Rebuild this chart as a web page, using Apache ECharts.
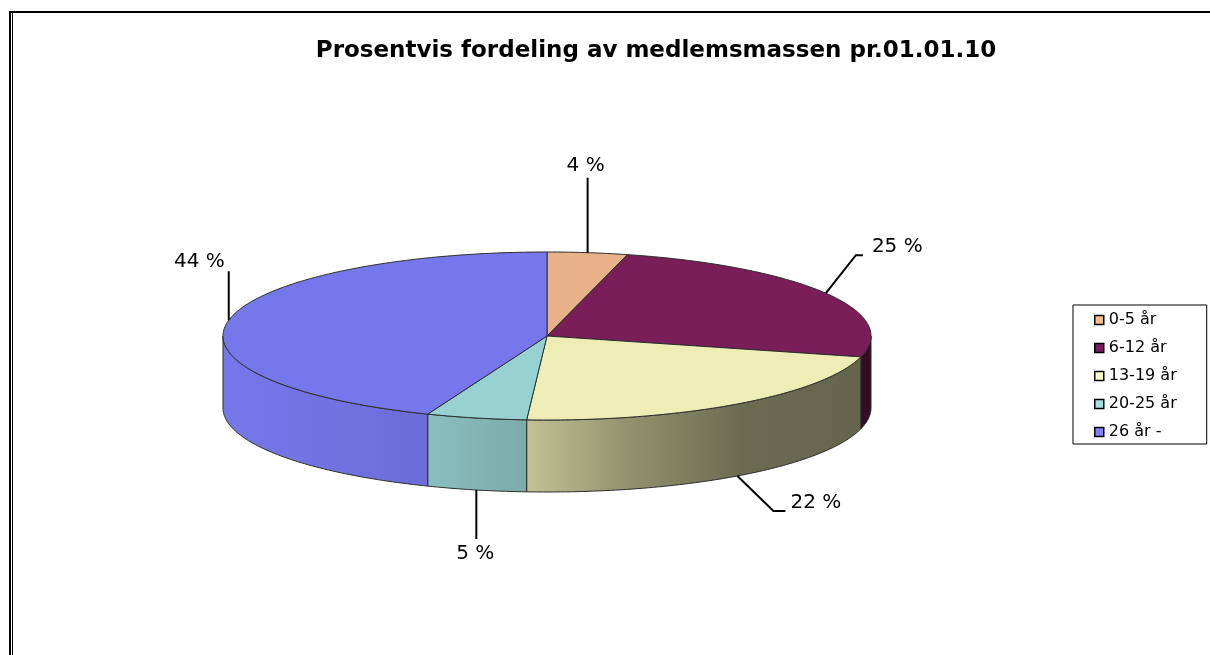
<!DOCTYPE html>
<html><head><meta charset="utf-8">
<script src="https://cdn.jsdelivr.net/npm/echarts@6/dist/echarts.min.js"></script>
<style>html,body{margin:0;padding:0;background:#fff}#c{width:1210px;height:655px}</style>
</head><body><div id="c"></div>
<script>
// ---- data ----
const chartTitle = 'Prosentvis fordeling av medlemsmassen pr.01.01.10';
const categories = ['0-5 år', '6-12 år', '13-19 år', '20-25 år', '26 år -'];
const values = [4, 25, 22, 5, 44];

// ---- styles / layout ----
const legendColors = ['#f9bf8f', '#7a1c5a', '#ffffc6', '#a6e0e0', '#8080ff'];
const topColors = ['#e9b189', '#7a1e5a', '#ededb5', '#97d1d1', '#7777ec'];
const PIE = { cx: 547, cy: 336, rx: 324, ry: 84, depth: 72 };
const labelLayout = [
  { line: [[0, 0], [0, -75]], text: [-2, -87], align: 'center' },
  { line: [[0, 0], [30, -38], [37, -38]], text: [46, -46], align: 'left' },
  { line: [[0, 0], [36, 35], [48, 35]], text: [53, 27], align: 'left' },
  { line: [[0, 0], [0, 49]], text: [-1, 64], align: 'center' },
  { line: [[0, 0], [0, -49]], text: [-4, -58], align: 'right' }
];
const shade = [[0, 1], [0.3, 0.92], [0.47, 0.82], [0.62, 0.62], [0.8, 0.45], [1, 0.42]];
const FONT = 'DejaVu Sans';

const total = values.reduce((a, b) => a + b, 0);
const cum = [];
values.reduce((acc, v, i) => { cum[i] = [acc, acc + v]; return acc + v; }, 0);

function scaleColor(hex, f) {
  const n = parseInt(hex.slice(1), 16);
  const r = Math.round(((n >> 16) & 255) * f), g = Math.round(((n >> 8) & 255) * f), b = Math.round((n & 255) * f);
  return 'rgb(' + r + ',' + g + ',' + b + ')';
}
function sideGradient(hex) {
  return {
    type: 'linear', global: true,
    x: PIE.cx - PIE.rx, y: 0, x2: PIE.cx + PIE.rx, y2: 0,
    colorStops: shade.map(s => ({ offset: s[0], color: scaleColor(hex, s[1]) }))
  };
}
function P(t, dy) {
  return [PIE.cx + PIE.rx * Math.sin(t), PIE.cy - PIE.ry * Math.cos(t) + (dy || 0)];
}
function arc(a, b, dy) {
  const n = Math.max(2, Math.ceil((b - a) / (Math.PI / 180)));
  const pts = [];
  for (let k = 0; k <= n; k++) pts.push(P(a + (b - a) * k / n, dy));
  return pts;
}

function makeRender(i) {
  return function (params, api) {
    const t0 = api.value(0) / total * 2 * Math.PI;
    const t1 = api.value(1) / total * 2 * Math.PI;
    const val = api.value(2);
    const children = [];
    const a = Math.max(t0, Math.PI / 2), b = Math.min(t1, 3 * Math.PI / 2);
    if (b > a) {
      const pts = arc(a, b, 0).concat(arc(a, b, PIE.depth).reverse());
      children.push({ type: 'polygon', shape: { points: pts },
        style: { fill: sideGradient(topColors[i]), stroke: '#2e2e2e', lineWidth: 1 } });
    }
    const top = [[PIE.cx, PIE.cy]].concat(arc(t0, t1, 0));
    children.push({ type: 'polygon', shape: { points: top },
      style: { fill: topColors[i], stroke: '#2e2e2e', lineWidth: 1 } });
    const m = (t0 + t1) / 2;
    const anc = P(m, Math.cos(m) < 0 ? PIE.depth : 0);
    const L = labelLayout[i];
    children.push({ type: 'polyline', shape: { points: L.line.map(p => [anc[0] + p[0], anc[1] + p[1]]) },
      style: { stroke: '#000', lineWidth: 2, fill: null } });
    children.push({ type: 'text', x: anc[0] + L.text[0], y: anc[1] + L.text[1],
      style: { text: val + ' %', fill: '#000', fontSize: 20, fontFamily: FONT, align: L.align, verticalAlign: 'middle' } });
    return { type: 'group', children: children };
  };
}

const series = categories.map((name, i) => ({
  type: 'custom', name: name, coordinateSystem: 'none',
  itemStyle: { color: legendColors[i] },
  data: [[cum[i][0], cum[i][1], values[i]]],
  renderItem: makeRender(i)
}));

const chart = echarts.init(document.getElementById('c'), null, { renderer: 'canvas' });
chart.setOption({
  animation: false,
  backgroundColor: '#fff',
  title: {
    text: chartTitle, left: 656, top: 40, textAlign: 'center', padding: 0,
    textStyle: { fontFamily: FONT, fontSize: 23, fontWeight: 'bold', color: '#000' }
  },
  legend: {
    data: categories, orient: 'vertical', left: 1073, top: 305,
    icon: 'rect', itemWidth: 9, itemHeight: 9, itemGap: 12,
    padding: [7, 30, 4, 21], borderColor: '#000', borderWidth: 1,
    itemStyle: { borderColor: '#000', borderWidth: 1.5 },
    textStyle: { fontFamily: FONT, fontSize: 16, color: '#000', lineHeight: 16 }
  },
  graphic: [
    { type: 'line', shape: { x1: 9, y1: 12, x2: 1210, y2: 12 }, style: { stroke: '#000', lineWidth: 2 } },
    { type: 'line', shape: { x1: 10, y1: 11, x2: 10, y2: 655 }, style: { stroke: '#000', lineWidth: 2 } },
    { type: 'line', shape: { x1: 12.5, y1: 13, x2: 12.5, y2: 655 }, style: { stroke: '#000', lineWidth: 1 } }
  ],
  series: series
});
</script>
</body></html>
